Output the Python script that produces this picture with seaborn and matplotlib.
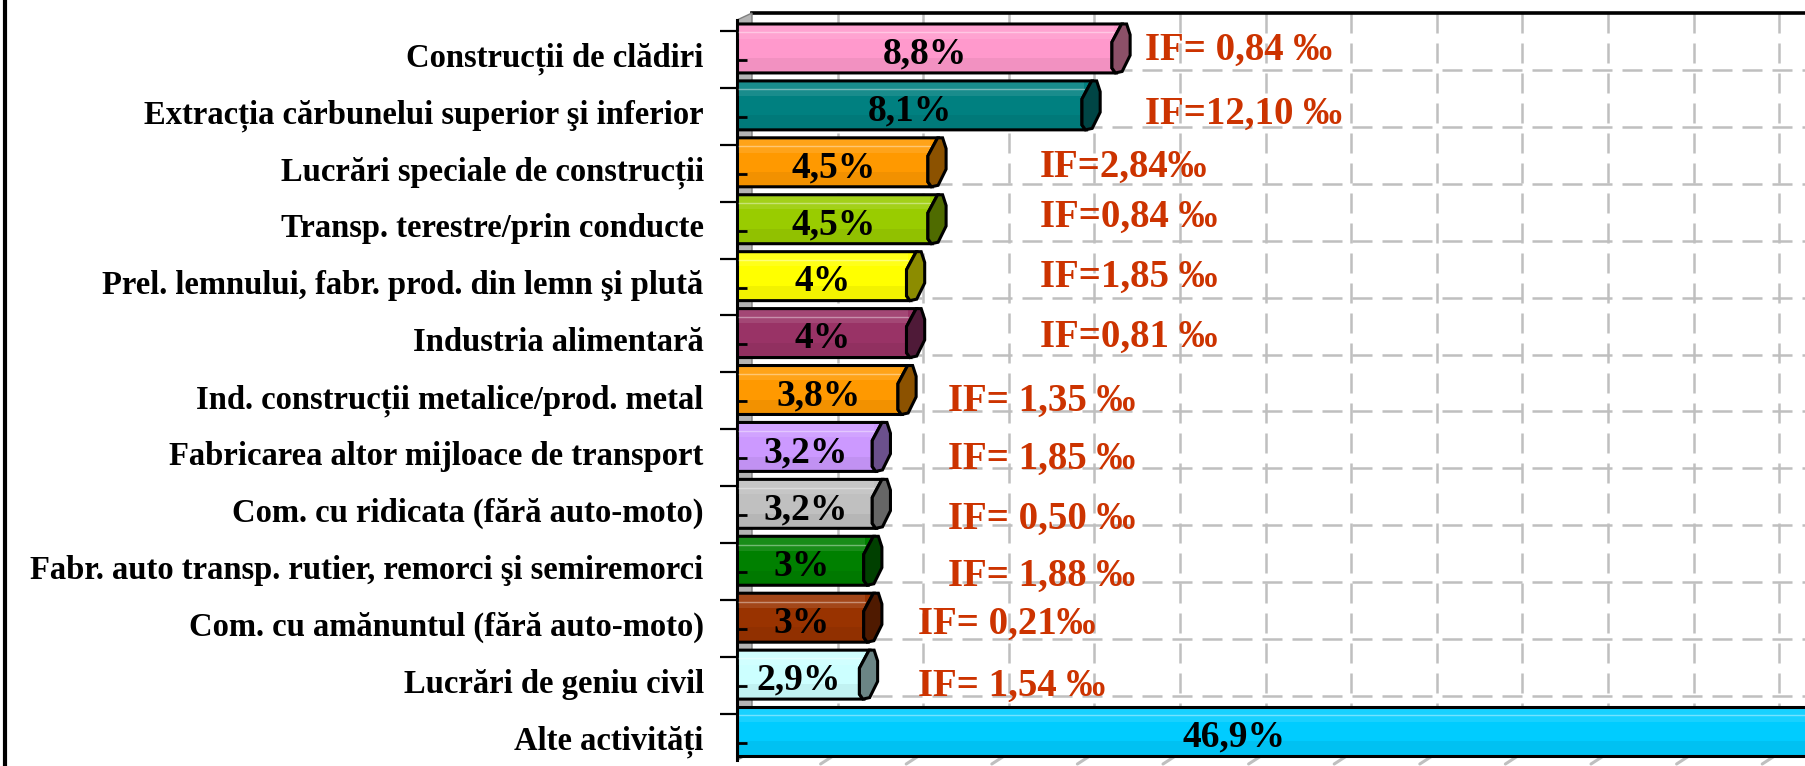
import numpy as np
import matplotlib
matplotlib.use("Agg")
import matplotlib.pyplot as plt
from matplotlib.patches import Polygon
from matplotlib.lines import Line2D
import seaborn as sns

# ---- data -------------------------------------------------------------
categories = [
    "Construcții de clădiri",
    "Extracția cărbunelui superior şi inferior",
    "Lucrări speciale de construcții",
    "Transp. terestre/prin conducte",
    "Prel. lemnului, fabr. prod. din lemn şi plută",
    "Industria alimentară",
    "Ind. construcții metalice/prod. metal",
    "Fabricarea altor mijloace de transport",
    "Com. cu ridicata (fără auto-moto)",
    "Fabr. auto transp. rutier, remorci şi semiremorci",
    "Com. cu amănuntul (fără auto-moto)",
    "Lucrări de geniu civil",
    "Alte activități",
]
shares = [8.8, 8.1, 4.5, 4.5, 4.0, 4.0, 3.8, 3.2, 3.2, 3.0, 3.0, 2.9, 46.9]
share_labels = ["8,8%", "8,1%", "4,5%", "4,5%", "4%", "4%", "3,8%", "3,2%",
                "3,2%", "3%", "3%", "2,9%", "46,9%"]
if_labels = ["IF= 0,84 ‰", "IF=12,10 ‰", "IF=2,84‰", "IF=0,84 ‰", "IF=1,85 ‰",
             "IF=0,81 ‰", "IF= 1,35 ‰", "IF= 1,85 ‰", "IF= 0,50 ‰", "IF= 1,88 ‰",
             "IF= 0,21‰", "IF= 1,54 ‰"]

# ---- styling ----------------------------------------------------------
face_colors = ["#FF99CC", "#008080", "#FF9900", "#99CC00", "#FFFF00", "#993366",
               "#FF9900", "#CC99FF", "#C0C0C0", "#008000", "#993300", "#CCFFFF",
               "#00CCFF"]
cap_colors = ["#8C5068", "#004545", "#8C5200", "#4F6B00", "#8C8C00", "#4F1A38",
              "#8C5200", "#6B508C", "#666666", "#004000", "#4F1A00", "#6B8585",
              "#006F8C"]
# where the IF annotations sit (x in axis units, y as row offset)
if_x = [9.53, 9.53, 7.08, 7.08, 7.08, 7.08, 4.93, 4.93, 4.93, 4.93, 4.23, 4.23]
if_dy = [0.04, 0.16, 0.09, -0.03, 0.02, 0.07, 0.2, 0.22, 0.27, 0.28, 0.12, 0.21]

sns.set_theme(style="white")
plt.rcParams["font.family"] = ["Liberation Serif", "DejaVu Serif"]
plt.rcParams["font.weight"] = "bold"

W, H, DPI = 1805, 766, 100
fig = plt.figure(figsize=(W / DPI, H / DPI), dpi=DPI)
fig.patch.set_facecolor("white")

PX_PER_UNIT = 42.8       # horizontal scale (pixels per percent)
DEPTH_X, DEPTH_Y = 15, 7  # oblique offset of the back wall
FRONT_L, FRONT_T, FRONT_B = 737, 20, 760
n = len(categories)


def fig_rect(left, top, right, bottom):
    return [left / W, (H - bottom) / H, (right - left) / W, (bottom - top) / H]


# back wall with the dashed grid
ax_back = fig.add_axes(fig_rect(FRONT_L + DEPTH_X, FRONT_T - DEPTH_Y, W, FRONT_B - DEPTH_Y))
ax_back.set_zorder(0)
ax_back.set_xlim(0, (W - FRONT_L - DEPTH_X) / PX_PER_UNIT)
ax_back.set_ylim(n - 0.5, -0.5)
ax_back.set_xticks(np.arange(2, 26, 2))
ax_back.set_yticks(np.arange(0.5, n - 0.5, 1))
ax_back.tick_params(length=0, labelleft=False, labelbottom=False)
ax_back.grid(True, color="#BFBFBF", linewidth=1.8, linestyle=(0, (8, 4)))
for side in ["left", "right", "bottom"]:
    ax_back.spines[side].set_visible(False)
ax_back.spines["top"].set_color("black")
ax_back.spines["top"].set_linewidth(2.6)

# side wall between the front axis and the back wall
side_wall = Polygon(
    [(FRONT_L / W, (H - FRONT_T) / H), ((FRONT_L + DEPTH_X) / W, (H - FRONT_T + DEPTH_Y) / H),
     ((FRONT_L + DEPTH_X) / W, (H - FRONT_B + DEPTH_Y) / H), (FRONT_L / W, (H - FRONT_B) / H)],
    closed=True, transform=fig.transFigure, facecolor="#B4B4B4", edgecolor="#808080",
    linewidth=1.0, zorder=0.5)
fig.patches.append(side_wall)

# front plane with the bars
ax = fig.add_axes(fig_rect(FRONT_L, FRONT_T, W, FRONT_B))
ax.set_zorder(1)
ax.patch.set_alpha(0)
sns.barplot(x=shares, y=categories, hue=categories, palette=face_colors, orient="h",
            width=0.86, linewidth=0, saturation=1, legend=False, ax=ax)
xmax = (W - FRONT_L) / PX_PER_UNIT
ax.set_xlim(0, xmax)
ax.set_ylim(n - 0.5, -0.5)
ax.set_xlabel("")
ax.set_ylabel("")
ax.set_xticks([])
for side in ["top", "right", "bottom"]:
    ax.spines[side].set_visible(False)
ax.spines["left"].set_color("black")
ax.spines["left"].set_linewidth(2.2)

ax.set_yticks(np.arange(n) + 0.11)
ax.set_yticklabels(categories, fontsize=23.5, fontweight="bold", color="black")
ax.tick_params(axis="y", which="major", length=0, pad=24)
ax.set_yticks(np.arange(n) - 0.31, minor=True)
ax.tick_params(axis="y", which="minor", length=12.5, width=1.6, color="black", direction="out", left=True)
ax.hlines(np.arange(n) + 0.2, 0, 10 / PX_PER_UNIT, color="black", linewidth=2.0, zorder=6)

ux = 1.0 / PX_PER_UNIT  # one pixel in data units
for i, p in enumerate(ax.patches[:n]):
    x0 = p.get_width()
    top = p.get_y()
    h = p.get_height()
    bot = top + h
    fc = face_colors[i]
    # gentle shading bands on the front face
    ax.add_patch(plt.Rectangle((0, top), x0, 0.3 * h, facecolor="white", alpha=0.10,
                               linewidth=0, zorder=3))
    ax.add_patch(plt.Rectangle((0, top + 0.7 * h), x0, 0.3 * h, facecolor="black",
                               alpha=0.05, linewidth=0, zorder=3))
    ax.plot([0, x0], [top + 0.17 * h] * 2, color="white", alpha=0.4, linewidth=1.0, zorder=3)
    # fill up to the slanted edge of the end cap
    ax.add_patch(Polygon([(x0 - 2 * ux, top), (x0 + 8 * ux, top), (x0 - 2 * ux, top + 0.4 * h)],
                         closed=True, facecolor=fc, linewidth=0, zorder=2.5))
    # outline of the front face
    ax.add_patch(Polygon([(0, top), (x0 + 8 * ux, top), (x0 - 1.7 * ux, top + 0.37 * h),
                          (x0 - 1.7 * ux, top + 0.9 * h), (x0 + 1.7 * ux, bot), (0, bot)],
                         closed=True, facecolor="none", edgecolor="black", linewidth=2.2, zorder=4))
    # end cap
    ax.add_patch(Polygon([(x0 - 1.7 * ux, top + 0.37 * h), (x0 + 8 * ux, top), (x0 + 13 * ux, top),
                          (x0 + 16.5 * ux, top + 0.22 * h), (x0 + 16.5 * ux, top + 0.64 * h),
                          (x0 + 8.5 * ux, bot - 0.03 * h), (x0 + 1.7 * ux, bot),
                          (x0 - 1.7 * ux, top + 0.9 * h)],
                         closed=True, facecolor=cap_colors[i], edgecolor="black",
                         linewidth=2.2, zorder=4.5))
    # value label on the bar
    label_x = x0 / 2 if x0 < xmax else xmax * 0.465
    ax.text(label_x, i + 0.1, share_labels[i], ha="center", va="center", fontsize=27,
            fontweight="bold", color="black", zorder=7)

for i, txt in enumerate(if_labels):
    ax.text(if_x[i], i + if_dy[i], txt, ha="left", va="center", fontsize=28,
            fontweight="bold", color="#CC3300", zorder=7)

# floor lines below the last bar, continuing the vertical grid
to_fig = fig.transFigure.inverted()
for gx in ax_back.get_xticks():
    px, _ = ax_back.transData.transform((gx, 0))
    p1 = to_fig.transform((px, 13))
    p2 = to_fig.transform((px - 17, 2))
    fig.add_artist(Line2D([p1[0], p2[0]], [p1[1], p2[1]], color="#BFBFBF", linewidth=2.2,
                          transform=fig.transFigure, zorder=0.6))

# outer frame line on the left
fig.add_artist(Line2D([5 / W, 5 / W], [0, 1], color="black", linewidth=3.0,
                      transform=fig.transFigure))

fig.savefig("out.png", dpi=DPI, facecolor="white")
